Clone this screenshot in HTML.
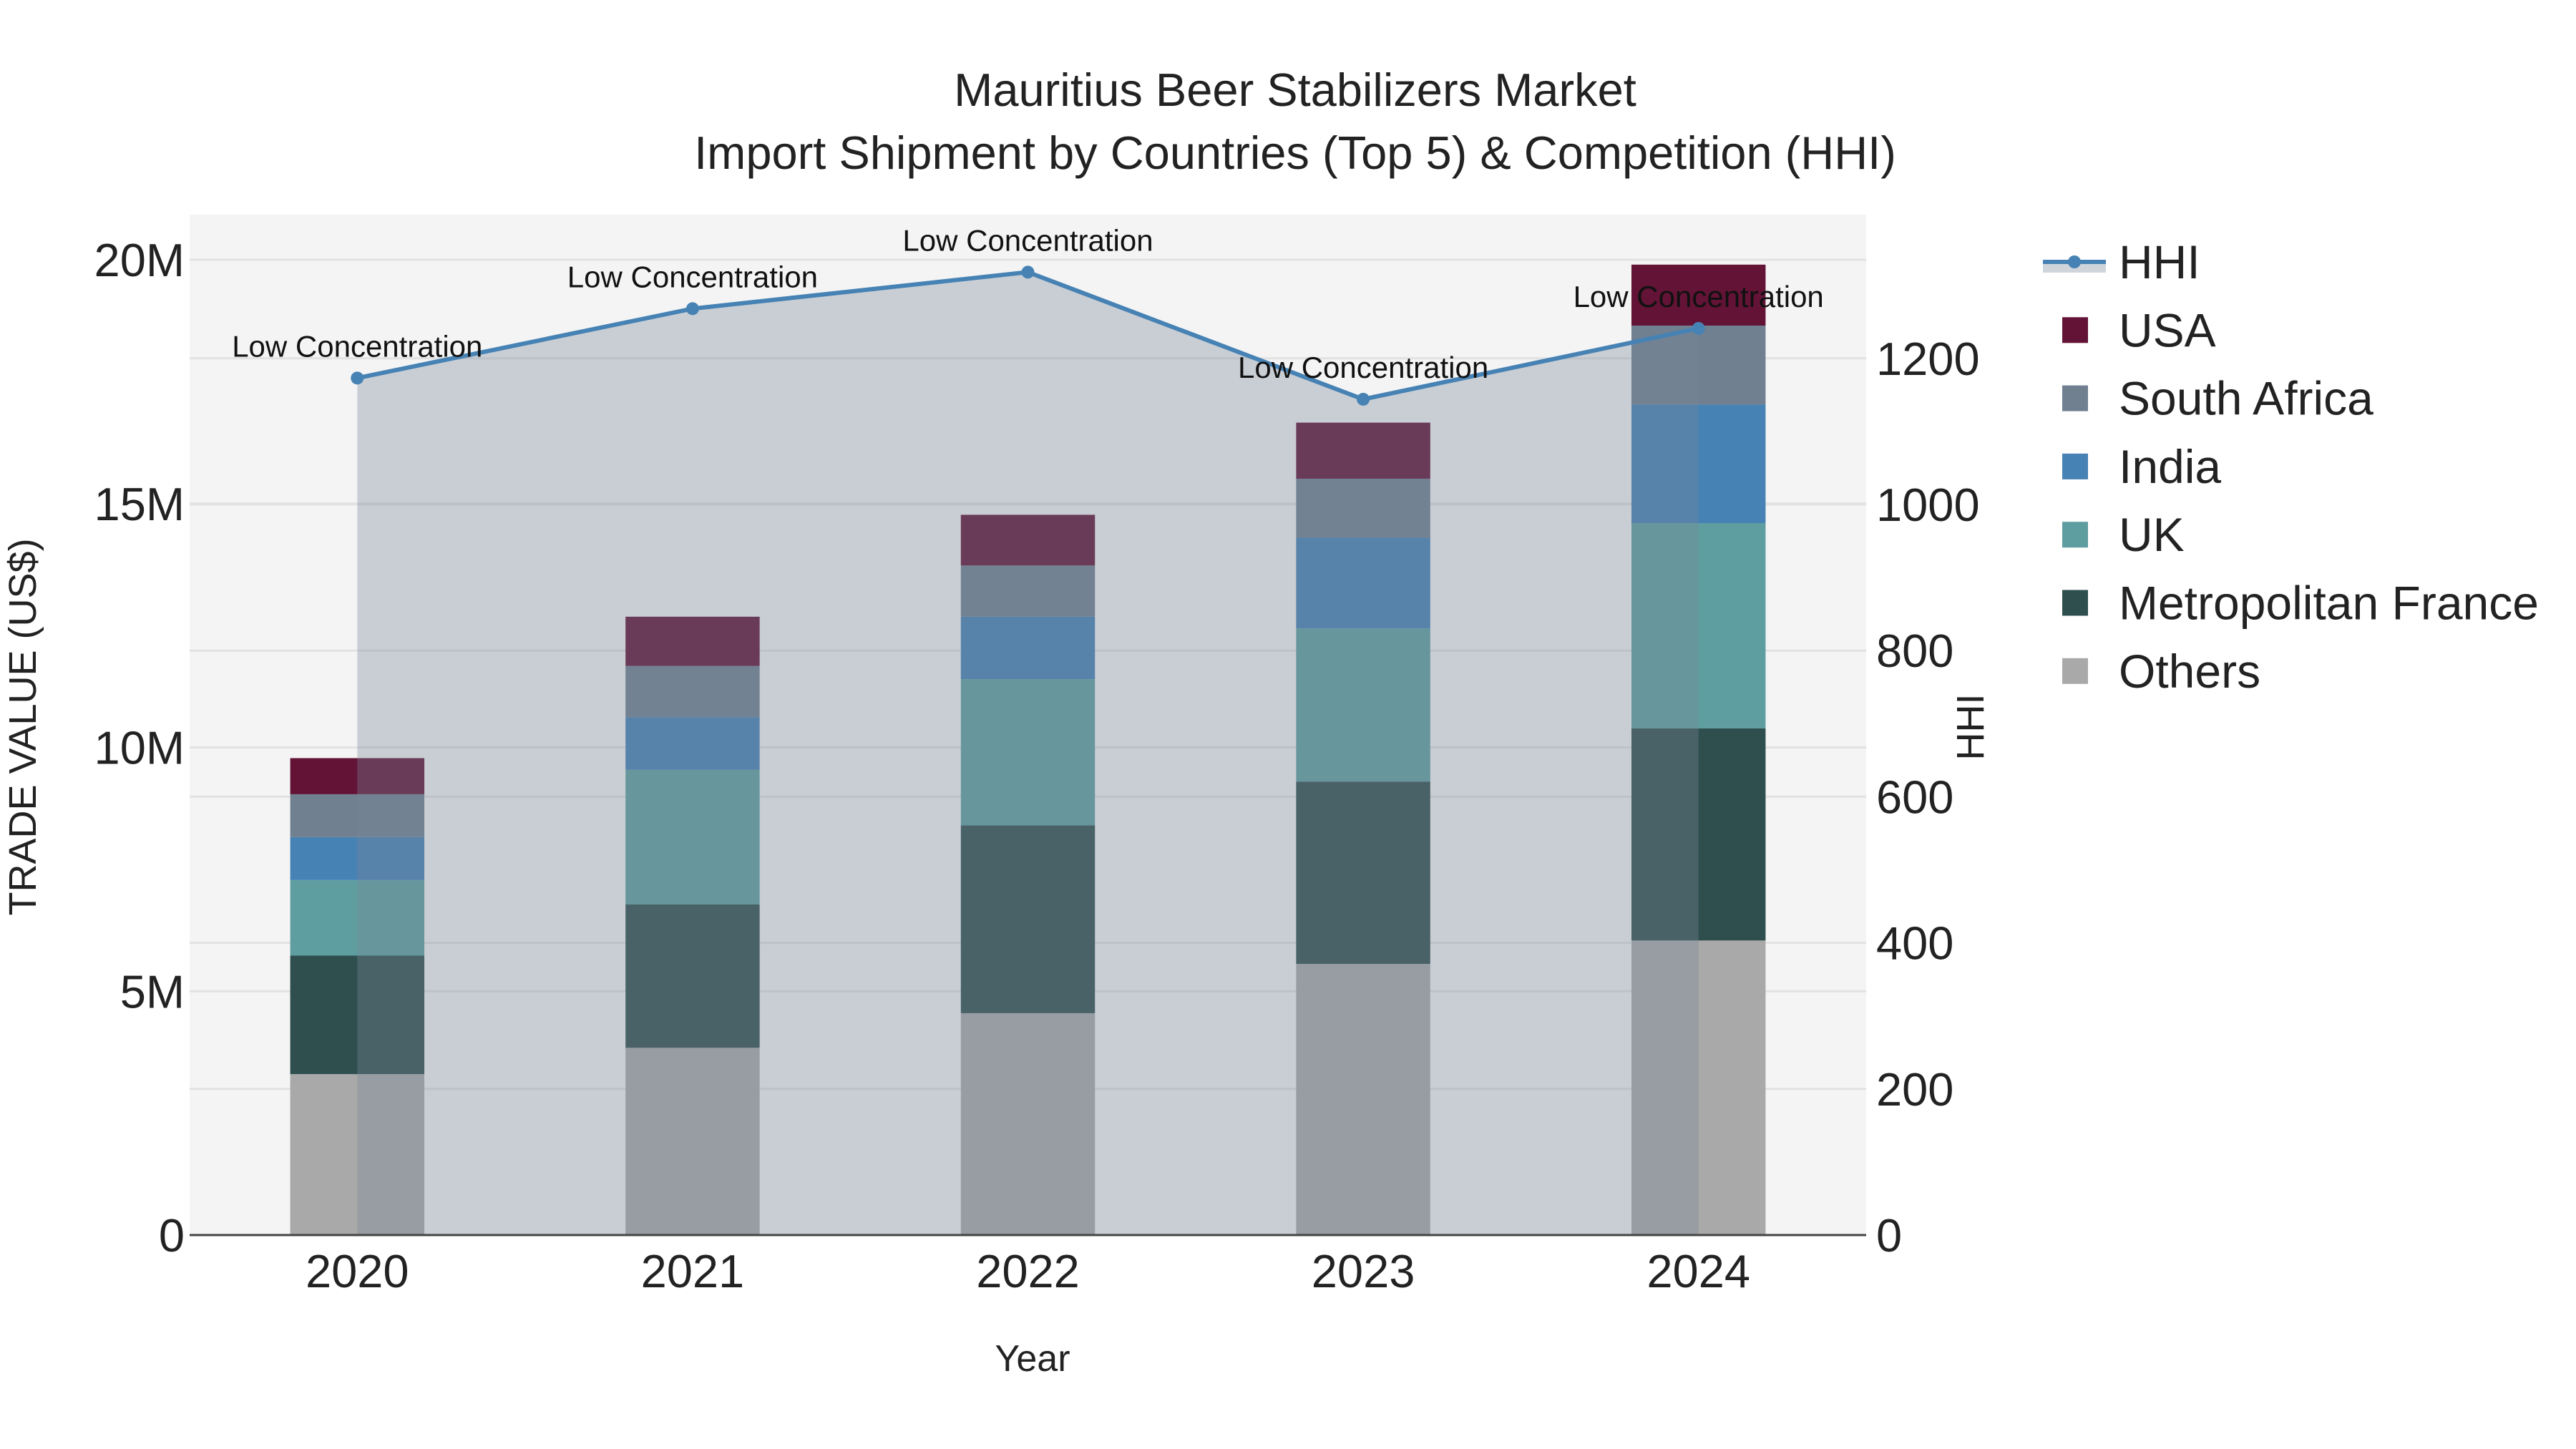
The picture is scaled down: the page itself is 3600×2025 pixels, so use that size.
<!DOCTYPE html>
<html><head><meta charset="utf-8"><style>
html,body{margin:0;padding:0;background:#fff;}
svg{display:block;font-family:"Liberation Sans",sans-serif;}
</style></head><body>
<svg id="chart" width="3600" height="2025" viewBox="0 0 3600 2025" xmlns="http://www.w3.org/2000/svg">
<g id="title">
<text x="1810" y="148" font-size="65" text-anchor="middle" fill="#222">Mauritius Beer Stabilizers Market</text>
<text x="1810" y="236" font-size="65" text-anchor="middle" fill="#222">Import Shipment by Countries (Top 5) &amp; Competition (HHI)</text>
</g>
<rect x="265" y="300" width="2343" height="1426" fill="#f4f4f4"/>
<g id="grid"></g>
<g id="bars"></g>
<g id="hhi"></g>
<line x1="265" y1="1726" x2="2608" y2="1726" stroke="#444" stroke-width="3"/>
<g id="ticks"></g>
<text x="1443" y="1916" font-size="52" text-anchor="middle" fill="#222">Year</text>
<text transform="translate(50,1016) rotate(-90)" font-size="54" text-anchor="middle" fill="#222">TRADE VALUE (US$)</text>
<text transform="translate(2772,1016) rotate(-90)" font-size="54" text-anchor="middle" fill="#222">HHI</text>
<g id="legend"></g>
</svg>
<script>
const years = ['2020','2021','2022','2023','2024'];
const seriesNames = ['Others','Metropolitan France','UK','India','South Africa','USA'];
const seriesColors = ['#a9a9a9','#2f4f4f','#5f9ea0','#4682b4','#708090','#631336'];
const others = [3.30, 3.84, 4.55, 5.56, 6.04];
const france = [2.43, 2.94, 3.85, 3.74, 4.35];
const uk = [1.55, 2.76, 3.00, 3.14, 4.21];
const india = [0.88, 1.08, 1.28, 1.86, 2.43];
const southAfrica = [0.88, 1.05, 1.05, 1.21, 1.62];
const usa = [0.74, 1.01, 1.04, 1.15, 1.25];
const hhi = [1173, 1268, 1318, 1144, 1241];
const hhiLabels = ['Low Concentration','Low Concentration','Low Concentration','Low Concentration','Low Concentration'];
const yTicks = [0, 5, 10, 15, 20];
const yTickLabels = ['0','5M','10M','15M','20M'];
const y2Ticks = [0, 200, 400, 600, 800, 1000, 1200];

const NS = 'http://www.w3.org/2000/svg';
const L = 265, R = 2608, T = 300, B = 1726;
const band = (R - L) / years.length;
const xc = i => L + band * (i + 0.5);
const y = v => B - v * 68.15;
const y2 = v => B - v * 1.021;
function mk(tag, parent, attrs){ const e = document.createElementNS(NS, tag); for (const k in attrs) e.setAttribute(k, attrs[k]); parent.appendChild(e); return e; }

const grid = document.getElementById('grid');
yTicks.forEach(v => { if (v > 0) { const l = mk('line', grid, {x1:L, x2:R, y1:y(v), y2:y(v), stroke:'#e2e2e2', 'stroke-width':3});

 } });
y2Ticks.forEach(v => { if (v > 0) { const l = mk('line', grid, {x1:L, x2:R, y1:y2(v), y2:y2(v), stroke:'#e2e2e2', 'stroke-width':3});

 } });

const data = [others, france, uk, india, southAfrica, usa];
const bars = document.getElementById('bars');
const bw = band * 0.4;
years.forEach((yr, i) => {
  let base = 0;
  data.forEach((s, k) => {
    const r = mk('rect', bars, {x: xc(i) - bw/2, y: y(base + s[i]), width: bw, height: y(base) - y(base + s[i]), fill: seriesColors[k]});
    
    
    base += s[i];
  });
});

const hg = document.getElementById('hhi');
let pts = hhi.map((v, i) => xc(i) + ',' + y2(v)).join(' ');
const area = mk('polygon', hg, {points: xc(0) + ',' + B + ' ' + pts + ' ' + xc(hhi.length-1) + ',' + B, fill: 'rgba(119,136,153,0.35)'});


const line = mk('polyline', hg, {points: pts, fill: 'none', stroke: '#4682b4', 'stroke-width': 6});


hhi.forEach((v, i) => {
  const c = mk('circle', hg, {cx: xc(i), cy: y2(v), r: 9, fill: '#4682b4'});
  
  
  const t = mk('text', hg, {x: xc(i), y: y2(v) - 30, 'font-size': 42, 'text-anchor': 'middle', fill: '#111'});
  t.textContent = hhiLabels[i];
  
  
});

const tk = document.getElementById('ticks');
yTicks.forEach((v, i) => { const t = mk('text', tk, {x: 258, y: y(v) + 23, 'font-size': 65, 'text-anchor': 'end', fill: '#222'}); t.textContent = yTickLabels[i];

 });
y2Ticks.forEach(v => { const t = mk('text', tk, {x: 2622, y: y2(v) + 23, 'font-size': 65, fill: '#222'}); t.textContent = String(v);

 });
years.forEach((yr, i) => { const t = mk('text', tk, {x: xc(i), y: 1799, 'font-size': 65, 'text-anchor': 'middle', fill: '#222'}); t.textContent = yr;

 });

const lg = document.getElementById('legend');
const ly0 = 366, ls = 95.3;
mk('rect', lg, {x: 2855, y: ly0, width: 88, height: 15, fill: 'rgba(119,136,153,0.35)'});
mk('line', lg, {x1: 2855, x2: 2943, y1: ly0, y2: ly0, stroke: '#4682b4', 'stroke-width': 6});
mk('circle', lg, {cx: 2899, cy: ly0, r: 9, fill: '#4682b4'});
const ht = mk('text', lg, {x: 2961, y: ly0 + 23, 'font-size': 66, fill: '#222'});
ht.textContent = 'HHI';


for (let k = seriesNames.length - 1, j = 1; k >= 0; k--, j++) {
  const cy = ly0 + j * ls;
  mk('rect', lg, {x: 2882, y: cy - 18, width: 36, height: 36, fill: seriesColors[k]});
  const t = mk('text', lg, {x: 2961, y: cy + 23, 'font-size': 66, fill: '#222'});
  t.textContent = seriesNames[k];
  
  
}
</script>
</body></html>
